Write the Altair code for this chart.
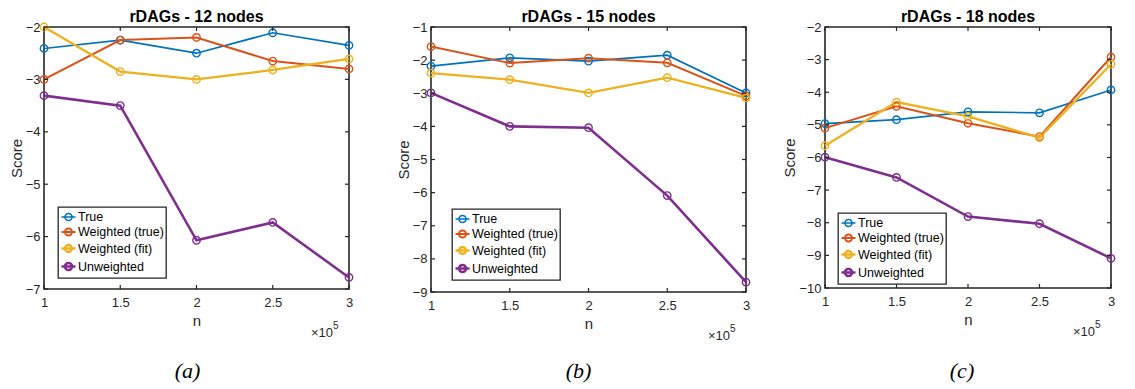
import altair as alt
import pandas as pd

n_values = [100000, 150000, 200000, 250000, 300000]
series = ["True", "Weighted (true)", "Weighted (fit)", "Unweighted"]
colors = ["#0072BD", "#D95319", "#EDB120", "#7E2F8E"]
line_widths = [1.7, 2.6, 1.9, 1.7]
titles = ["rDAGs - 12 nodes", "rDAGs - 15 nodes", "rDAGs - 18 nodes"]
panel_labels = ["(a)", "(b)", "(c)"]

# Panel (a): 12 nodes
a_true = [-2.41, -2.25, -2.50, -2.11, -2.35]
a_wtrue = [-3.00, -2.25, -2.20, -2.65, -2.80]
a_wfit = [-2.00, -2.85, -3.00, -2.82, -2.61]
a_unw = [-3.31, -3.50, -6.07, -5.73, -6.78]

# Panel (b): 15 nodes
b_true = [-2.18, -1.93, -2.03, -1.85, -2.99]
b_wtrue = [-1.59, -2.09, -1.94, -2.08, -3.08]
b_wfit = [-2.39, -2.59, -2.99, -2.53, -3.14]
b_unw = [-2.99, -4.00, -4.04, -6.09, -8.70]

# Panel (c): 18 nodes
c_true = [-4.96, -4.84, -4.60, -4.63, -3.93]
c_wtrue = [-5.10, -4.43, -4.95, -5.36, -2.92]
c_wfit = [-5.64, -4.30, -4.74, -5.39, -3.14]
c_unw = [-5.99, -6.61, -7.81, -8.03, -9.09]

AX = "#262626"
FONT = "Liberation Sans"
SYM = "M-1,0L1,0M-0.5,0A0.5,0.5,0,1,1,0.5,0A0.5,0.5,0,1,1,-0.5,0"


def make_df(vals):
    rows = []
    for s, v in zip(series, vals):
        for n, y in zip(n_values, v):
            rows.append({"n": n, "score": y, "series": s})
    return pd.DataFrame(rows)


def panel(title, vals, ydom, w, h, label, label_dx, label_dy, leg_x, leg_y, title_dy):
    df = make_df(vals)
    yticks = list(range(int(ydom[0]), int(ydom[1]) + 1))
    xaxis = alt.Axis(values=n_values, labelExpr="datum.value / 100000",
                     ticks=False, domain=False, grid=False, labelPadding=7,
                     labelOverlap=False, labelFlush=False,
                     labelFont=FONT, labelFontSize=13, labelColor=AX,
                     titleFont=FONT, titleFontSize=15, titleFontWeight="normal",
                     titleColor=AX, titlePadding=4)
    yaxis = alt.Axis(values=yticks, ticks=False, domain=False, grid=False,
                     labelOverlap=False, labelFlush=False,
                     labelPadding=4, labelFont=FONT, labelFontSize=13,
                     labelColor=AX, titleFont=FONT, titleFontSize=15,
                     titleFontWeight="normal", titleColor=AX, titlePadding=1)
    xscale = alt.Scale(domain=[100000, 300000], nice=False, zero=False)
    yscale = alt.Scale(domain=ydom, nice=False, zero=False)
    xs = alt.X("n:Q", title="n", scale=xscale, axis=xaxis)
    ys = alt.Y("score:Q", title="Score", scale=yscale, axis=yaxis)
    col = alt.Color("series:N", scale=alt.Scale(domain=series, range=colors),
                    sort=series,
                    legend=alt.Legend(title=None, orient="none", legendX=leg_x,
                                      legendY=leg_y, strokeColor=AX, fillColor="white",
                                      padding=2, symbolType=SYM, symbolSize=196,
                                      symbolStrokeWidth=1.6, symbolFillColor="transparent",
                                      labelFont=FONT, labelFontSize=12.5, labelColor="#000",
                                      rowPadding=0, symbolOffset=0, labelOffset=1,
                                      cornerRadius=0))
    lines = alt.Chart(df).mark_line().encode(
        x=xs, y=ys, color=col,
        strokeWidth=alt.StrokeWidth("series:N", scale=alt.Scale(domain=series, range=line_widths),
                                    legend=None),
        order="n:Q")
    pts = alt.Chart(df).mark_point(shape="circle", filled=False, size=55,
                                   strokeWidth=1.4, opacity=1).encode(
        x=xs, y=ys, color=alt.Color("series:N", scale=alt.Scale(domain=series, range=colors)))

    xt = pd.DataFrame({"n": n_values})
    yt = pd.DataFrame({"score": yticks})
    tl = 4
    tb = alt.Chart(xt).mark_rule(color=AX, strokeWidth=1.2).encode(
        x=xs, y=alt.value(h), y2=alt.value(h - tl))
    tt = alt.Chart(xt).mark_rule(color=AX, strokeWidth=1.2).encode(
        x=xs, y=alt.value(0), y2=alt.value(tl))
    tlft = alt.Chart(yt).mark_rule(color=AX, strokeWidth=1.2).encode(
        y=ys, x=alt.value(0), x2=alt.value(tl))
    trgt = alt.Chart(yt).mark_rule(color=AX, strokeWidth=1.2).encode(
        y=ys, x=alt.value(w), x2=alt.value(w - tl))

    ttl = alt.Chart(pd.DataFrame({"t": [title]})).mark_text(
        font=FONT, fontSize=16, fontWeight="bold", color="#000", baseline="middle",
        align="center").encode(text="t:N", x=alt.value(w / 2), y=alt.value(title_dy))
    sub = alt.Chart(pd.DataFrame({"t": [label]})).mark_text(
        font="Liberation Serif", fontStyle="italic", fontSize=22, color="#000",
        baseline="middle").encode(
        text="t:N", x=alt.value(w / 2 + label_dx), y=alt.value(h + label_dy))
    ex1 = alt.Chart(pd.DataFrame({"t": ["×10"]})).mark_text(
        font=FONT, fontSize=13, color=AX, align="right", baseline="middle").encode(
        text="t:N", x=alt.value(w - 16), y=alt.value(h + 44))
    ex2 = alt.Chart(pd.DataFrame({"t": ["5"]})).mark_text(
        font=FONT, fontSize=10, color=AX, align="left", baseline="middle").encode(
        text="t:N", x=alt.value(w - 16), y=alt.value(h + 37))

    return alt.layer(lines, pts, tb, tt, tlft, trgt, ttl, sub, ex1, ex2).properties(
        width=w, height=h)


pa = panel(titles[0], [a_true, a_wtrue, a_wfit, a_unw], [-7, -2], 305, 262,
           panel_labels[0], -9, 82, 14, 180, -10)
pb = panel(titles[1], [b_true, b_wtrue, b_wfit, b_unw], [-9, -1], 315, 265,
           panel_labels[1], -10, 79, 21, 182, -10)
pc = panel(titles[2], [c_true, c_wtrue, c_wfit, c_unw], [-10, -2], 286, 261,
           panel_labels[2], -6, 83, 13, 186, -10)

inner = alt.hconcat(pa, pb, spacing=38).resolve_scale(
    color="independent", strokeWidth="independent")
chart = alt.hconcat(inner, pc, spacing=28).resolve_scale(
    color="independent", strokeWidth="independent").properties(
    padding=0, background="white").configure_view(
    stroke=AX, strokeWidth=1.6).configure_legend(strokeWidth=1.3)

chart.save("out.html", embed_options={"renderer": "svg", "actions": False})
